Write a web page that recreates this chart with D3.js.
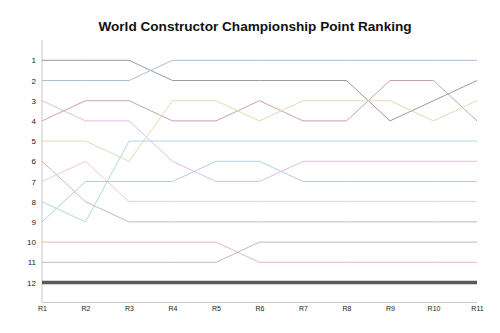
<!DOCTYPE html>
<html>
<head>
<meta charset="utf-8">
<script src="https://cdn.jsdelivr.net/npm/d3@7"></script>
<style>
  html, body { margin: 0; padding: 0; background: #fff; }
  svg { display: block; font-family: "Liberation Sans", Arial, sans-serif; }
</style>
</head>
<body>
<svg id="chart" width="500" height="333"></svg>
<script>
// Race rounds along the bottom
const rounds = ["R1", "R2", "R3", "R4", "R5", "R6", "R7", "R8", "R9", "R10", "R11"];
// Championship positions shown on the left
const positions = [1, 2, 3, 4, 5, 6, 7, 8, 9, 10, 11, 12];

// Ranking of each constructor after every round
const teamA = [1, 1, 1, 2, 2, 2, 2, 2, 4, 3, 2];
const teamB = [2, 2, 2, 1, 1, 1, 1, 1, 1, 1, 1];
const teamC = [3, 4, 4, 6, 7, 7, 6, 6, 6, 6, 6];
const teamD = [4, 3, 3, 4, 4, 3, 4, 4, 2, 2, 4];
const teamE = [5, 5, 6, 3, 3, 4, 3, 3, 3, 4, 3];
const teamF = [6, 8, 9, 9, 9, 9, 9, 9, 9, 9, 9];
const teamG = [7, 6, 8, 8, 8, 8, 8, 8, 8, 8, 8];
const teamH = [8, 9, 5, 5, 5, 5, 5, 5, 5, 5, 5];
const teamI = [9, 7, 7, 7, 6, 6, 7, 7, 7, 7, 7];
const teamJ = [10, 10, 10, 10, 10, 11, 11, 11, 11, 11, 11];
const teamK = [11, 11, 11, 11, 11, 10, 10, 10, 10, 10, 10];
const teamL = [12, 12, 12, 12, 12, 12, 12, 12, 12, 12, 12];

const series = [
  { values: teamA, color: "#9a9a9a", width: 1 },
  { values: teamB, color: "#a9c0dc", width: 1 },
  { values: teamC, color: "#dcc0e4", width: 1 },
  { values: teamD, color: "#c8a4a8", width: 1 },
  { values: teamE, color: "#e2dab4", width: 1 },
  { values: teamF, color: "#c4b4d8", width: 1 },
  { values: teamG, color: "#f0cdc4", width: 1 },
  { values: teamH, color: "#b4d6e6", width: 1 },
  { values: teamI, color: "#b4cce6", width: 1 },
  { values: teamJ, color: "#e6b8b8", width: 1 },
  { values: teamK, color: "#bcbcbc", width: 1 },
  { values: teamL, color: "#5a5a5a", width: 3.5 }
];

const svg = d3.select("#chart");

const x = d3.scalePoint().domain(rounds).range([42, 477]);
const y = d3.scaleLinear().domain([1, 12]).range([60.3, 282.5]);

// Title
svg.append("text")
  .attr("x", 255).attr("y", 31)
  .attr("text-anchor", "middle")
  .attr("font-size", 13.6).attr("font-weight", "bold")
  .attr("fill", "#111")
  .text("World Constructor Championship Point Ranking");

// Axis frame lines
svg.append("line")
  .attr("x1", 42).attr("x2", 42).attr("y1", 40).attr("y2", 302.5)
  .attr("stroke", "#c8c8c8").attr("stroke-width", 1);
svg.append("line")
  .attr("x1", 42).attr("x2", 477).attr("y1", 302.5).attr("y2", 302.5)
  .attr("stroke", "#c8c8c8").attr("stroke-width", 1);

// Y axis labels
const yAxis = d3.axisLeft(y).tickValues(positions).tickSize(0).tickPadding(6)
  .tickFormat(d3.format("d"));
svg.append("g").attr("transform", "translate(42,0)").call(yAxis)
  .call(g => g.select(".domain").remove())
  .call(g => g.selectAll("text").attr("font-size", 8).attr("fill", "#222")
    .attr("font-family", "Liberation Sans, Arial, sans-serif"));

// X axis labels
const xAxis = d3.axisBottom(x).tickSize(0).tickPadding(4);
svg.append("g").attr("transform", "translate(0,302.5)").call(xAxis)
  .call(g => g.select(".domain").remove())
  .call(g => g.selectAll("text").attr("font-size", 7).attr("fill", "#222")
    .attr("font-family", "Liberation Sans, Arial, sans-serif"));

// Ranking lines
const line = d3.line()
  .x((d, i) => x(rounds[i]))
  .y(d => y(d));

svg.append("g").selectAll("path")
  .data(series)
  .join("path")
  .attr("d", d => line(d.values))
  .attr("fill", "none")
  .attr("stroke", d => d.color)
  .attr("stroke-width", d => d.width);
</script>
</body>
</html>
